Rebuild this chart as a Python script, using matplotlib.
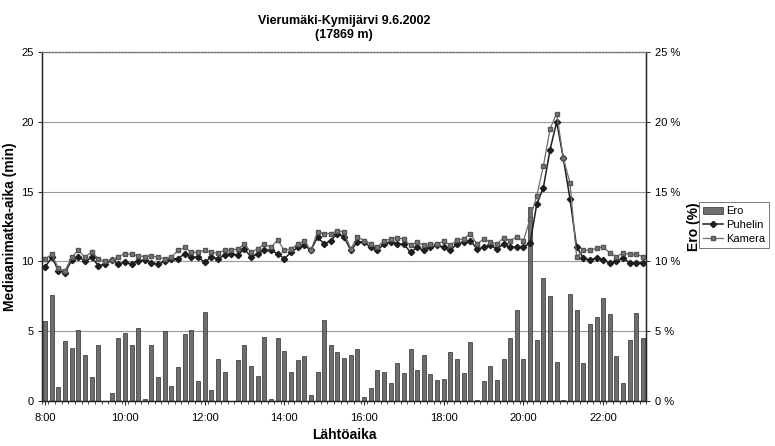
import matplotlib
matplotlib.use("Agg")
import matplotlib.pyplot as plt
import numpy as np

plt.rcParams['font.family'] = ['Liberation Sans', 'DejaVu Sans']

# departure times every 10 minutes, 8:00 - 23:00
times = [f"{8 + m // 60}:{m % 60:02d}" for m in range(0, 15 * 60 + 1, 10)]

# Ero (%)
ero = [5.7, 7.6, 1.0, 4.3, 3.8, 5.1, 3.3, 1.7, 4.0, 0.0,
       0.6, 4.5, 4.9, 4.0, 5.2, 0.15, 4.0, 1.7, 5.0, 1.1,
       2.4, 4.8, 5.1, 1.4, 6.4, 0.8, 3.0, 2.1, 0.0, 2.9,
       4.0, 2.5, 1.8, 4.6, 0.15, 4.5, 3.6, 2.1, 2.9, 3.2,
       0.45, 2.1, 5.8, 4.0, 3.5, 3.1, 3.3, 3.7, 0.25, 0.9,
       2.2, 2.1, 1.3, 2.7, 2.0, 3.7, 2.2, 3.3, 1.9, 1.5,
       1.6, 3.5, 3.0, 2.0, 4.2, 0.1, 1.4, 2.5, 1.5, 3.0,
       4.5, 6.5, 3.0, 13.9, 4.4, 8.8, 7.5, 2.8, 0.07, 7.7,
       6.5, 2.7, 5.5, 6.0, 7.4, 6.2, 3.2, 1.3, 4.4, 6.3,
       4.5]

# Puhelin (min)
puhelin = [9.6, 10.3, 9.35, 9.2, 10.1, 10.35, 10.0, 10.3, 9.7, 9.8,
           10.1, 9.8, 9.95, 9.8, 10.05, 10.1, 9.9, 9.8, 10.0, 10.2,
           10.2, 10.55, 10.3, 10.3, 9.95, 10.3, 10.2, 10.45, 10.55, 10.45,
           10.9, 10.3, 10.55, 10.8, 10.8, 10.55, 10.2, 10.65, 11.0, 11.15,
           10.8, 11.75, 11.25, 11.5, 12.0, 11.75, 10.8, 11.4, 11.4, 11.0,
           10.8, 11.25, 11.4, 11.25, 11.25, 10.65, 11.0, 10.8, 11.0, 11.15,
           11.0, 10.8, 11.25, 11.4, 11.5, 10.9, 11.0, 11.15, 10.9, 11.25,
           11.0, 11.05, 11.05, 11.3, 14.1, 15.3, 18.0, 20.0, 17.4, 14.5,
           11.05, 10.25, 10.1, 10.25, 10.1, 9.9, 10.0, 10.25, 9.9, 9.9,
           9.9]

# Kamera (min)
kamera = [10.2, 10.5, 9.5, 9.35, 10.3, 10.8, 10.3, 10.7, 10.2, 10.0,
          10.1, 10.35, 10.55, 10.5, 10.4, 10.35, 10.4, 10.3, 10.2, 10.3,
          10.8, 11.0, 10.65, 10.65, 10.8, 10.65, 10.6, 10.8, 10.8, 10.9,
          11.25, 10.65, 10.9, 11.25, 11.0, 11.55, 10.8, 10.9, 11.25, 11.45,
          10.8, 12.1, 12.0, 12.0, 12.2, 12.1, 10.9, 11.75, 11.5, 11.25,
          11.0, 11.5, 11.6, 11.7, 11.6, 11.15, 11.4, 11.15, 11.25, 11.25,
          11.45, 11.15, 11.55, 11.6, 12.0, 11.25, 11.6, 11.4, 11.25, 11.7,
          11.5, 11.75, 11.5, 13.05, 14.7, 16.85, 19.5, 20.6, 17.4, 15.65,
          10.35, 10.8, 10.8, 10.95, 11.05, 10.6, 10.35, 10.6, 10.5, 10.5,
          10.35]

x = np.arange(len(times))

fig = plt.figure(figsize=(7.75, 4.46), dpi=100)
ax2 = fig.add_axes([0.054, 0.101, 0.780, 0.782])   # bars, right axis
ax = ax2.twinx()                                     # lines, left axis
ax.yaxis.tick_left()
ax.yaxis.set_label_position('left')
ax2.yaxis.tick_right()
ax2.yaxis.set_label_position('right')
ax.set_zorder(ax2.get_zorder() + 1)
ax.patch.set_visible(False)

# bars
ax2.set_axisbelow(True)
ax2.grid(axis='y', color='#9a9a9a', linewidth=0.8)
bars = ax2.bar(x, ero, width=0.6, color='#6e6e6e', edgecolor='#2e2e2e',
               linewidth=0.5, label='Ero')
ax2.set_ylim(0, 25)
ax2.set_yticks([0, 5, 10, 15, 20, 25])
ax2.set_yticklabels([f"{v} %" for v in [0, 5, 10, 15, 20, 25]])
ax2.set_ylabel('Ero (%)', fontweight='bold', fontsize=10, labelpad=5)

# lines
l1, = ax.plot(x, puhelin, color='#1e1e1e', linewidth=1.1, marker='D',
              markersize=3.2, label='Puhelin')
l2, = ax.plot(x, kamera, color='#6e6e6e', linewidth=0.9, marker='s',
              markersize=3.4, markerfacecolor='#7a7a7a',
              markeredgecolor='#555555', label='Kamera')
ax.set_ylim(0, 25)
ax.set_yticks([0, 5, 10, 15, 20, 25])
ax.set_ylabel('Mediaanimatka-aika (min)', fontweight='bold', fontsize=10,
              labelpad=3)

ax2.set_xlim(-0.5, len(times) - 0.5)
ax2.set_xticks(x[::12])
ax2.set_xticklabels(times[::12])
ax2.set_xticks(np.arange(-0.5, len(times), 1), minor=True)
ax2.tick_params(axis='x', which='minor', length=2, width=0.5)
ax2.tick_params(axis='x', which='major', length=3, width=0.6, pad=6)
ax2.set_xlabel('Lähtöaika', fontweight='bold', fontsize=10, labelpad=3)

for a in (ax, ax2):
    a.tick_params(axis='y', length=3, width=0.6, labelsize=8, pad=3)
    a.tick_params(axis='x', labelsize=8)
    for s in a.spines.values():
        s.set_linewidth(0.9)
        s.set_color('#222222')
    a.spines['top'].set_linestyle(':')
    a.spines['top'].set_color('#777777')

ax.set_title('Vierumäki-Kymijärvi 9.6.2002\n(17869 m)', fontweight='bold',
             fontsize=9, pad=10, linespacing=1.3)

leg = fig.legend([bars, l1, l2], ['Ero', 'Puhelin', 'Kamera'],
                 loc='center left', bbox_to_anchor=(0.902, 0.495),
                 fontsize=8, frameon=True, fancybox=False,
                 edgecolor='#555555', borderpad=0.35, labelspacing=0.35,
                 handlelength=1.8, handletextpad=0.3, borderaxespad=0)
leg.get_frame().set_linewidth(0.7)

fig.savefig('out.png', dpi=100)
